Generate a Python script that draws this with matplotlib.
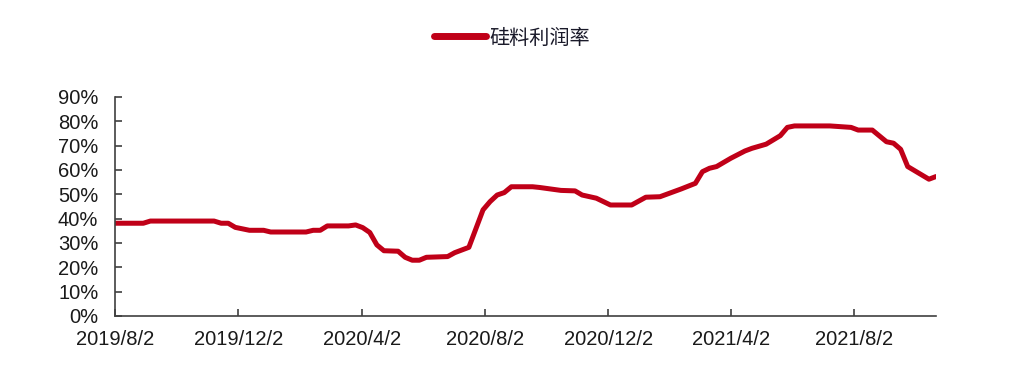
import matplotlib.pyplot as plt
import matplotlib.dates as mdates
import pandas as pd

plt.rcParams['font.family'] = ['Liberation Sans', 'Noto Sans CJK SC', 'DejaVu Sans']

dates = ['2019-08-02', '2019-08-30', '2019-09-06', '2019-11-08', '2019-11-15',
         '2019-11-22', '2019-11-29', '2019-12-13', '2019-12-27', '2020-01-03',
         '2020-02-07', '2020-02-14', '2020-02-21', '2020-02-28', '2020-03-20',
         '2020-03-27', '2020-04-03', '2020-04-10', '2020-04-17', '2020-04-24',
         '2020-05-08', '2020-05-15', '2020-05-22', '2020-05-29', '2020-06-05',
         '2020-06-26', '2020-07-03', '2020-07-17', '2020-07-31', '2020-08-07',
         '2020-08-14', '2020-08-21', '2020-08-28', '2020-09-18', '2020-09-25',
         '2020-10-16', '2020-10-30', '2020-11-06', '2020-11-20', '2020-12-04',
         '2020-12-25', '2021-01-08', '2021-01-22', '2021-02-12', '2021-02-26',
         '2021-03-05', '2021-03-12', '2021-03-19', '2021-04-02', '2021-04-16',
         '2021-04-23', '2021-05-07', '2021-05-21', '2021-05-28', '2021-06-04',
         '2021-07-09', '2021-07-30', '2021-08-06', '2021-08-20', '2021-09-03',
         '2021-09-10', '2021-09-17', '2021-09-24', '2021-10-15', '2021-10-22']
margin = [38.1, 38.1, 39.0, 39.0, 38.1,
          38.1, 36.4, 35.2, 35.2, 34.5,
          34.5, 35.2, 35.2, 37.0, 37.0,
          37.4, 36.3, 34.3, 29.2, 26.8,
          26.6, 24.1, 22.9, 22.9, 24.1,
          24.4, 26.0, 28.2, 43.6, 47.0,
          49.7, 50.7, 53.1, 53.1, 52.8,
          51.6, 51.4, 49.7, 48.4, 45.6,
          45.6, 48.8, 49.0, 52.2, 54.5,
          59.3, 60.7, 61.4, 64.8, 67.8,
          68.9, 70.6, 74.1, 77.5, 78.1,
          78.1, 77.5, 76.4, 76.4, 71.6,
          71.0, 68.5, 61.4, 56.2, 57.3]
tick_dates = ['2019-08-02', '2019-12-02', '2020-04-02', '2020-08-02',
              '2020-12-02', '2021-04-02', '2021-08-02']
tick_labels = ['2019/8/2', '2019/12/2', '2020/4/2', '2020/8/2',
               '2020/12/2', '2021/4/2', '2021/8/2']

x = pd.to_datetime(dates)
y = [v / 100 for v in margin]

fig = plt.figure(figsize=(10.13, 3.73), dpi=100)
ax = fig.add_axes([0.1135, 0.153, 0.8105, 0.587])
ax.plot(x, y, color='#C00018', linewidth=3.6, label='硅料利润率',
        solid_capstyle='round', solid_joinstyle='round')

ax.set_xlim(pd.Timestamp('2019-08-02'), pd.Timestamp('2021-10-22'))
ax.set_ylim(0, 0.9)
ax.set_yticks([i / 10 for i in range(10)])
ax.set_yticklabels([f'{i * 10}%' for i in range(10)])
ax.set_xticks(pd.to_datetime(tick_dates))
ax.set_xticklabels(tick_labels)

for s in ['top', 'right']:
    ax.spines[s].set_visible(False)
for s in ['left', 'bottom']:
    ax.spines[s].set_color('#404040')
    ax.spines[s].set_linewidth(1.2)
ax.tick_params(axis='both', direction='in', length=5, width=1.2,
               color='#404040', labelsize=14.5, labelcolor='#1a1a1a')
ax.tick_params(axis='y', pad=12)
ax.tick_params(axis='x', pad=10)

leg = fig.legend(loc='center', bbox_to_anchor=(0.505, 0.898), frameon=False,
                 fontsize=14.5, handlelength=2.6, handletextpad=0.15,
                 prop={'family': ['Noto Sans CJK SC', 'DejaVu Sans'], 'size': 14.5})
for t in leg.get_texts():
    t.set_color('#1a1a2a')
for h in leg.get_lines():
    h.set_linewidth(5)

fig.savefig('out.png', dpi=100)
